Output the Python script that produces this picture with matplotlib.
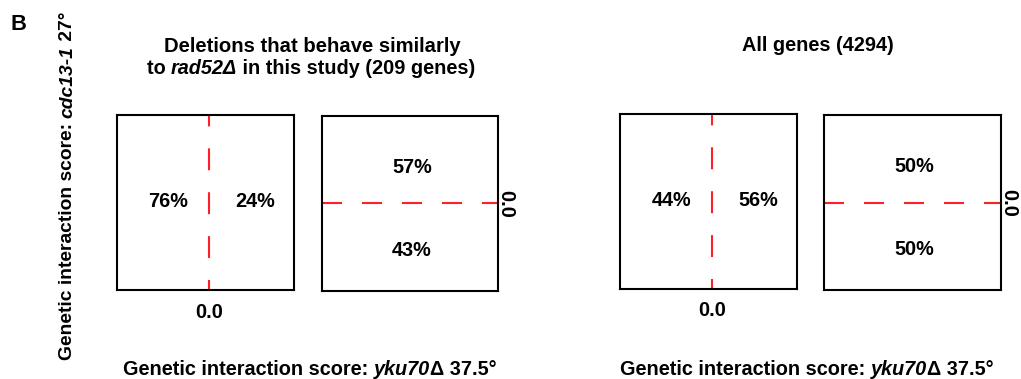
import matplotlib
matplotlib.use("Agg")
import matplotlib.pyplot as plt

plt.rcParams["font.family"] = ["Liberation Sans", "DejaVu Sans"]
plt.rcParams["font.weight"] = "bold"
plt.rcParams["lines.scale_dashes"] = False

# Quadrant percentages for each group of genes
similar_left_right = [76, 24]      # yku70 score < 0 / > 0
similar_up_down = [57, 43]         # cdc13-1 score > 0 / < 0
all_left_right = [44, 56]
all_up_down = [50, 50]

split_tick = "0.0"
title_similar_1 = "Deletions that behave similarly"
title_similar_2 = [("to ", "normal"), ("rad52Δ", "italic"), (" in this study (209 genes)", "normal")]
title_all = "All genes (4294)"
xlabel_parts = [("Genetic interaction score: ", "normal"), ("yku70", "italic"), ("Δ 37.5°", "normal")]
ylabel_parts = [("Genetic interaction score: ", "normal"), ("cdc13-1", "italic"), (" 27°", "normal")]

W, H = 1021, 379
FS = 14.3
fig = plt.figure(figsize=(W / 100, H / 100), dpi=100)
renderer = fig.canvas.get_renderer()


def fx(px):
    return px / W


def fy(py):
    return 1 - py / H


def add_box(left, top, right, bottom):
    ax = fig.add_axes([fx(left), fy(bottom), (right - left) / W, (bottom - top) / H])
    for s in ax.spines.values():
        s.set_linewidth(1.5)
        s.set_color("black")
    ax.set_xticks([])
    ax.set_yticks([])
    return ax


def seg_width(text, style, size):
    t = fig.text(0, 0, text + "|", fontsize=size, fontstyle=style)
    w1 = t.get_window_extent(renderer).width
    t.set_text("|")
    w2 = t.get_window_extent(renderer).width
    t.remove()
    return w1 - w2


def rich_text(parts, x, y, rotation=0, size=FS):
    widths = [seg_width(s, st, size) for s, st in parts]
    total = sum(widths)
    pos = -total / 2
    for (s, st), w in zip(parts, widths):
        if rotation == 0:
            px, py = x + pos, y
        else:
            px, py = x, y - pos
        fig.text(fx(px), fy(py), s, fontsize=size, fontstyle=st, ha="left",
                 va="baseline", rotation=rotation, rotation_mode="anchor")
        pos += w


red = "#ff1f2a"
vdash = (8.6, (15.8, 15.8))
hdash = (0, (14.4, 14.4))


def lr_panel(box, vals):
    ax = add_box(*box)
    ax.set_xlim(-1.0, 0.92)
    ax.set_ylim(-1, 1)
    ax.axvline(0, color=red, lw=1.5, ls=vdash)
    ax.text(0.29, 0.475, f"{vals[0]}%", transform=ax.transAxes, ha="center",
            va="baseline", fontsize=FS)
    ax.text(0.782, 0.475, f"{vals[1]}%", transform=ax.transAxes, ha="center",
            va="baseline", fontsize=FS)
    ax.set_xticks([0], [split_tick], fontsize=FS)
    ax.tick_params(axis="x", length=0, pad=9)
    return ax


def ud_panel(box, vals):
    ax = add_box(*box)
    ax.set_xlim(-1, 1)
    ax.set_ylim(-1, 1)
    ax.axhline(0, color=red, lw=1.5, ls=hdash)
    ax.text(0.51, 0.677, f"{vals[0]}%", transform=ax.transAxes, ha="center",
            va="baseline", fontsize=FS)
    ax.text(0.51, 0.2, f"{vals[1]}%", transform=ax.transAxes, ha="center",
            va="baseline", fontsize=FS)
    ax.yaxis.tick_right()
    ax.set_yticks([0], [split_tick], fontsize=FS, rotation=-90, va="center")
    ax.tick_params(axis="y", length=0, pad=-1.2)
    return ax


lr_panel((117, 115, 294, 290), similar_left_right)
ud_panel((322, 116, 498, 291), similar_up_down)
lr_panel((620, 114, 797, 289), all_left_right)
ud_panel((824, 115, 1001, 290), all_up_down)

fig.text(fx(10), fy(30), "B", fontsize=FS + 1.5, ha="left", va="baseline")
fig.text(fx(312), fy(52), title_similar_1, fontsize=FS + 0.3, ha="center", va="baseline")
rich_text(title_similar_2, 311, 74)
fig.text(fx(818), fy(51), title_all, fontsize=FS, ha="center", va="baseline")
rich_text(xlabel_parts, 310, 375)
rich_text(xlabel_parts, 807, 375)
rich_text(ylabel_parts, 72, 186, rotation=90, size=13.9)

fig.savefig("out.png", dpi=100)
